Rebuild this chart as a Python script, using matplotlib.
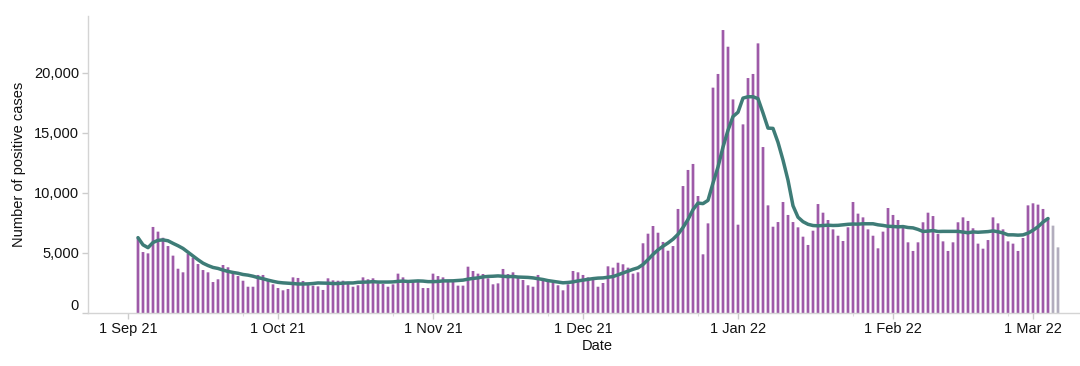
import matplotlib
matplotlib.use("Agg")
import matplotlib.pyplot as plt
import numpy as np
import pandas as pd

# daily positive cases, 3 Sep 21 .. 6 Mar 22 (last two days incomplete)
start_date = "2021-09-03"
cases = [
    6280, 5080, 4970, 7170, 6780, 6270, 5580, 4780, 3690, 3390,
    4940, 4610, 4080, 3580, 3390, 2580, 2810, 4000, 3810, 3500,
    3080, 2690, 2190, 2190, 3170, 3170, 2690, 2390, 2080, 1890,
    2000, 2970, 2920, 2670, 2470, 2280, 2220,
    1920, 2890, 2720, 2690, 2690, 2420, 2190, 2310, 2970, 2810,
    2890, 2470, 2420, 2190, 2390, 3280, 2970, 2670, 2610, 2610,
    2080, 2080, 3280, 3080, 2970, 2670, 2610, 2280, 2280, 3860,
    3500, 3280, 3250, 2890, 2390, 2470, 3670,
    3250, 3390, 2920, 2750, 2310, 2190, 3170, 2810, 2750, 2500,
    2310, 1890, 2390, 3500, 3390, 3170, 2970, 2750, 2190, 2500,
    3890, 3780, 4190, 4060, 3780, 3280, 3390, 5810, 6610, 7250,
    6690, 5920, 5190, 5580, 8670, 10580, 11920,
    12420, 9750, 4890, 7470, 18780, 19920, 23580, 22190, 17800, 7360,
    15720, 19580, 19920, 22470, 13830, 8970, 7190, 7580, 9250, 8170,
    7580, 7140, 6360, 5670, 6860, 9080, 8360, 7750, 6970, 6440,
    6000, 7140, 9250, 8280, 7970, 6970, 6440,
    5390, 6780, 8750, 8170, 7750, 7140, 5890, 5170, 5890, 7560,
    8360, 8080, 6580, 5970, 5170, 5890, 7560, 7970, 7670, 7060,
    5780, 5360, 6080, 7970, 7470, 6970, 5970, 5780, 5170, 6250,
    8970, 9140, 9030, 8670, 7890, 7280, 5470,
]
incomplete_days = 2

month_ticks = ["2021-09-01", "2021-10-01", "2021-11-01", "2021-12-01",
               "2022-01-01", "2022-02-01", "2022-03-01"]
month_labels = ["1 Sep 21", "1 Oct 21", "1 Nov 21", "1 Dec 21",
                "1 Jan 22", "1 Feb 22", "1 Mar 22"]
minor_ticks = ["2021-09-24", "2021-10-24", "2021-11-24", "2021-12-24",
               "2022-01-24", "2022-02-24"]
y_ticks = [0, 5000, 10000, 15000, 20000]

plt.rcParams['font.family'] = ['Liberation Sans', 'DejaVu Sans']

dates = pd.date_range(start_date, periods=len(cases), freq="D")
complete = pd.Series(cases[:-incomplete_days],
                     index=dates[:-incomplete_days])
# 7 day average (trailing window)
avg7 = complete.rolling(7, min_periods=1).mean()

bar_colors = ["#9e5aa8"] * (len(cases) - incomplete_days) + \
             ["#b2adbd"] * incomplete_days

fig = plt.figure(figsize=(10.8, 3.66), dpi=100)
ax = fig.add_axes([88 / 1080, 53 / 366, 992 / 1080, 297 / 366])

ax.bar(dates, cases, width=0.54, color=bar_colors, zorder=2, snap=False,
       linewidth=0)
ax.plot(avg7.index, avg7.values, color="#3e7c77", lw=2.5,
        solid_capstyle="round", solid_joinstyle="round", zorder=3)

x0 = pd.Timestamp("2021-09-01")
ax.set_xlim(x0 - pd.Timedelta(days=8), x0 + pd.Timedelta(days=190.4))
ax.set_ylim(0, 24750)

ax.set_xticks(pd.to_datetime(month_ticks))
ax.set_xticklabels(month_labels)
ax.set_xticks(pd.to_datetime(minor_ticks), minor=True)
ax.set_yticks(y_ticks)
ax.set_yticklabels([f"{v:,}" for v in y_ticks])
ax.get_yticklabels()[0].set_va("bottom")

for s in ["top", "right"]:
    ax.spines[s].set_visible(False)
for s in ["left", "bottom"]:
    ax.spines[s].set_color("#d4d4d4")
    ax.spines[s].set_linewidth(1)

ax.tick_params(axis="both", which="major", length=4.5, width=1,
               color="#cccccc", labelsize=10.5, labelcolor="#111111", pad=2)
ax.tick_params(axis="x", which="minor", length=2, width=0.8,
               color="#dddddd")

ax.set_ylabel("Number of positive cases", fontsize=10.5, color="#111111")
ax.yaxis.set_label_coords(-0.063, 0.5)
ax.set_xlabel("Date", fontsize=10.5, color="#111111")
ax.xaxis.set_label_coords((597 - 88) / 992, -0.088)

fig.savefig("out.png", dpi=100)
